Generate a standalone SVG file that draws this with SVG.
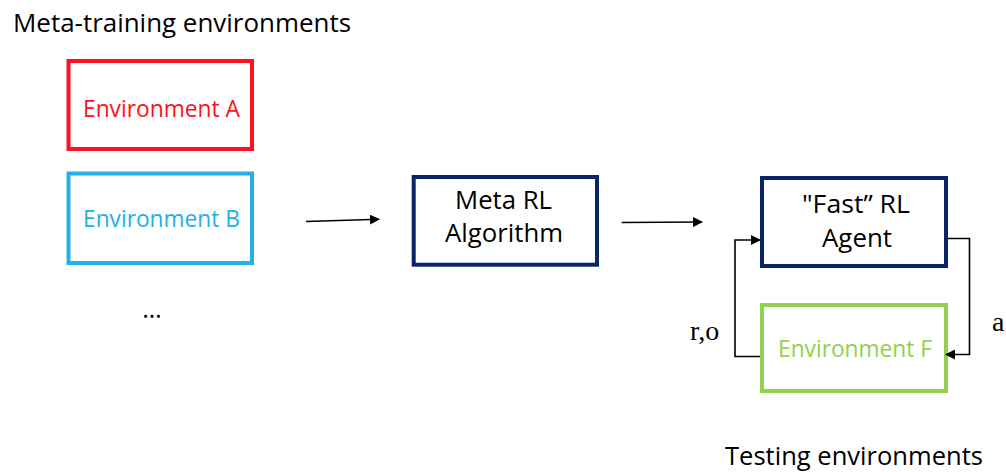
<svg xmlns="http://www.w3.org/2000/svg" width="1006" height="472" viewBox="0 0 1006 472">
<style>
  .box { fill: #ffffff; stroke-width: 4; }
  .lbl { font-family: "Open Sans", "Liberation Sans", sans-serif; font-size: 23px; }
  .blk { font-family: "Open Sans", "Liberation Sans", sans-serif; font-size: 25px; fill: #000000; }
  .serif { font-family: "Liberation Serif", "Times New Roman", serif; font-size: 28px; fill: #000000; }
  .conn { fill: none; stroke: #000000; stroke-width: 1.6; }
</style>
<defs>
  <marker id="arr" markerWidth="10" markerHeight="10" refX="9" refY="5" orient="auto" markerUnits="userSpaceOnUse" viewBox="0 0 10 10">
    <path d="M0,0 L10,5 L0,10 Z" fill="#000000"/>
  </marker>
</defs>
<rect x="0" y="0" width="1006" height="472" fill="#ffffff"/>

<text class="blk" x="13" y="32" textLength="338" lengthAdjust="spacingAndGlyphs">Meta-training environments</text>
<text class="blk" x="725" y="465" textLength="258" lengthAdjust="spacingAndGlyphs">Testing environments</text>

<g id="envA">
  <rect class="box" x="68.5" y="61" width="183.5" height="88" stroke="#ff1020"/>
  <text class="lbl" x="83" y="117" fill="#ff1020" textLength="157" lengthAdjust="spacingAndGlyphs">Environment A</text>
</g>
<g id="envB">
  <rect class="box" x="68.5" y="173.5" width="183.5" height="89.5" stroke="#22b0ea"/>
  <text class="lbl" x="83" y="227" fill="#22b0ea" textLength="157" lengthAdjust="spacingAndGlyphs">Environment B</text>
</g>
<g id="ellipsis">
  <text class="blk" x="152" y="318" text-anchor="middle">…</text>
</g>
<g id="metaRL">
  <rect class="box" x="413.7" y="177" width="183.3" height="87.7" stroke="#0b2466"/>
  <text class="blk" x="455" y="209" textLength="97" lengthAdjust="spacingAndGlyphs">Meta RL</text>
  <text class="blk" x="445" y="242" textLength="118" lengthAdjust="spacingAndGlyphs">Algorithm</text>
</g>
<g id="fastRL">
  <rect class="box" x="762" y="178" width="184" height="88" stroke="#0b2466"/>
  <text class="blk" x="802" y="213" textLength="108" lengthAdjust="spacingAndGlyphs">"Fast” RL</text>
  <text class="blk" x="822" y="247" textLength="70" lengthAdjust="spacingAndGlyphs">Agent</text>
</g>
<g id="envF">
  <rect class="box" x="762" y="305" width="184" height="86" stroke="#92d050"/>
  <text class="lbl" x="778" y="357" fill="#92d050" textLength="154" lengthAdjust="spacingAndGlyphs">Environment F</text>
</g>

<g id="connectors">
  <line class="conn" x1="306" y1="221.5" x2="379" y2="219.3" marker-end="url(#arr)"/>
  <line class="conn" x1="621.7" y1="222.5" x2="702" y2="222" marker-end="url(#arr)"/>
  <polyline class="conn" points="760,356.5 735,356.5 735,240 760,240" marker-end="url(#arr)"/>
  <polyline class="conn" points="948,238.5 969.5,238.5 969.5,354.5 946,354.5" marker-end="url(#arr)"/>
  <text class="serif" x="690" y="340">r,o</text>
  <text class="serif" x="992" y="331">a</text>
</g>
</svg>
